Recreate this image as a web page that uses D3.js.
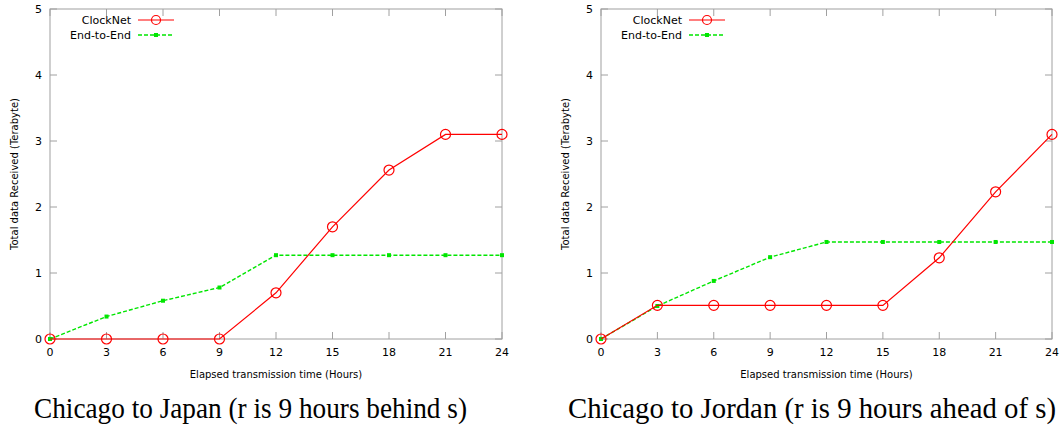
<!DOCTYPE html>
<html>
<head>
<meta charset="utf-8">
<script src="https://cdnjs.cloudflare.com/ajax/libs/d3/7.8.5/d3.min.js"></script>
<style>
body { margin: 0; background: #fff; }
text { font-family: "DejaVu Sans", sans-serif; }
.caption { font-family: "Liberation Serif", "Times New Roman", serif; }
</style>
</head>
<body>
<svg width="1063" height="429"></svg>
<script>
var hours = [0, 3, 6, 9, 12, 15, 18, 21, 24];
var yTicks = [0, 1, 2, 3, 4, 5];

var japanClockNet = [0, 0, 0, 0, 0.70, 1.70, 2.56, 3.10, 3.10];
var japanEndToEnd = [0, 0.34, 0.58, 0.78, 1.27, 1.27, 1.27, 1.27, 1.27];
var jordanClockNet = [0, 0.51, 0.51, 0.51, 0.51, 0.51, 1.23, 2.23, 3.10];
var jordanEndToEnd = [0, 0.50, 0.88, 1.24, 1.47, 1.47, 1.47, 1.47, 1.47];

var seriesNames = ["ClockNet", "End-to-End"];
var captions = ["Chicago to Japan (r is 9 hours behind s)", "Chicago to Jordan (r is 9 hours ahead of s)"];

var svg = d3.select("svg");

var panels = [
  { left: 50, right: 502, cx: 250.5, capW: 433, data: [japanClockNet, japanEndToEnd], caption: captions[0] },
  { left: 601, right: 1052, cx: 812, capW: 488, data: [jordanClockNet, jordanEndToEnd], caption: captions[1] }
];

var plotTop = 9, plotBottom = 339;
var frameColor = "#a0a0a0";
var colors = ["#ff0000", "#00e600"];

panels.forEach(function(p) {
  var g = svg.append("g");
  var x = d3.scaleLinear().domain([0, 24]).range([p.left, p.right]);
  var y = d3.scaleLinear().domain([0, 5]).range([plotBottom, plotTop]);

  // frame
  g.append("rect")
    .attr("x", p.left).attr("y", plotTop)
    .attr("width", p.right - p.left).attr("height", plotBottom - plotTop)
    .attr("fill", "none").attr("stroke", frameColor).attr("stroke-width", 1);

  // ticks, mirrored on all sides
  var tick = 7;
  hours.forEach(function(h) {
    g.append("line").attr("x1", x(h)).attr("x2", x(h)).attr("y1", plotBottom).attr("y2", plotBottom - tick).attr("stroke", frameColor);
    g.append("line").attr("x1", x(h)).attr("x2", x(h)).attr("y1", plotTop).attr("y2", plotTop + tick).attr("stroke", frameColor);
    g.append("text").attr("x", x(h)).attr("y", plotBottom + 17)
      .attr("text-anchor", "middle").attr("font-size", 11).attr("fill", "#000").text(h);
  });
  yTicks.forEach(function(v) {
    g.append("line").attr("x1", p.left).attr("x2", p.left + tick).attr("y1", y(v)).attr("y2", y(v)).attr("stroke", frameColor);
    g.append("line").attr("x1", p.right).attr("x2", p.right - tick).attr("y1", y(v)).attr("y2", y(v)).attr("stroke", frameColor);
    g.append("text").attr("x", p.left - 8).attr("y", y(v) + 4)
      .attr("text-anchor", "end").attr("font-size", 11).attr("fill", "#000").text(v);
  });

  // axis titles
  g.append("text")
    .attr("transform", "translate(" + (p.left - 32) + "," + ((plotTop + plotBottom) / 2) + ") rotate(-90)")
    .attr("text-anchor", "middle").attr("font-size", 10).attr("fill", "#000")
    .text("Total data Received (Terabyte)");
  g.append("text")
    .attr("x", (p.left + p.right) / 2).attr("y", 378)
    .attr("text-anchor", "middle").attr("font-size", 10).attr("fill", "#000")
    .text("Elapsed transmission time (Hours)");

  // series
  var line = d3.line()
    .x(function(d, i) { return x(hours[i]); })
    .y(function(d) { return y(d); });

  // end-to-end first, clocknet on top
  g.append("path").datum(p.data[1])
    .attr("d", line).attr("fill", "none")
    .attr("stroke", colors[1]).attr("stroke-width", 1.4).attr("stroke-dasharray", "4,2");
  g.selectAll(".sq").data(p.data[1]).enter().append("rect")
    .attr("x", function(d, i) { return x(hours[i]) - 2; })
    .attr("y", function(d) { return y(d) - 2; })
    .attr("width", 4).attr("height", 4).attr("fill", colors[1]);

  g.append("path").datum(p.data[0])
    .attr("d", line).attr("fill", "none")
    .attr("stroke", colors[0]).attr("stroke-width", 1.2);
  g.selectAll(".circ").data(p.data[0]).enter().append("circle")
    .attr("cx", function(d, i) { return x(hours[i]); })
    .attr("cy", function(d) { return y(d); })
    .attr("r", 5).attr("fill", "none").attr("stroke", colors[0]).attr("stroke-width", 1.2);

  // legend
  var lx = p.left + 81, ly = 20;
  g.append("text").attr("x", lx).attr("y", ly + 4).attr("text-anchor", "end")
    .attr("font-size", 11).attr("fill", "#000").text(seriesNames[0]);
  g.append("line").attr("x1", lx + 7).attr("x2", lx + 43).attr("y1", ly).attr("y2", ly)
    .attr("stroke", colors[0]).attr("stroke-width", 1.2);
  g.append("circle").attr("cx", lx + 25).attr("cy", ly).attr("r", 4.5)
    .attr("fill", "none").attr("stroke", colors[0]).attr("stroke-width", 1.2);

  g.append("text").attr("x", lx).attr("y", ly + 15 + 4).attr("text-anchor", "end")
    .attr("font-size", 11).attr("fill", "#000").text(seriesNames[1]);
  g.append("line").attr("x1", lx + 7).attr("x2", lx + 43).attr("y1", ly + 15).attr("y2", ly + 15)
    .attr("stroke", colors[1]).attr("stroke-width", 1.4).attr("stroke-dasharray", "4,2");
  g.append("rect").attr("x", lx + 23).attr("y", ly + 13).attr("width", 4).attr("height", 4).attr("fill", colors[1]);

  // caption
  svg.append("text").attr("class", "caption")
    .attr("x", p.cx).attr("y", 418)
    .attr("text-anchor", "middle").attr("font-size", 29).attr("fill", "#000")
    .attr("textLength", p.capW).attr("lengthAdjust", "spacingAndGlyphs")
    .text(p.caption);
});
</script>
</body>
</html>
